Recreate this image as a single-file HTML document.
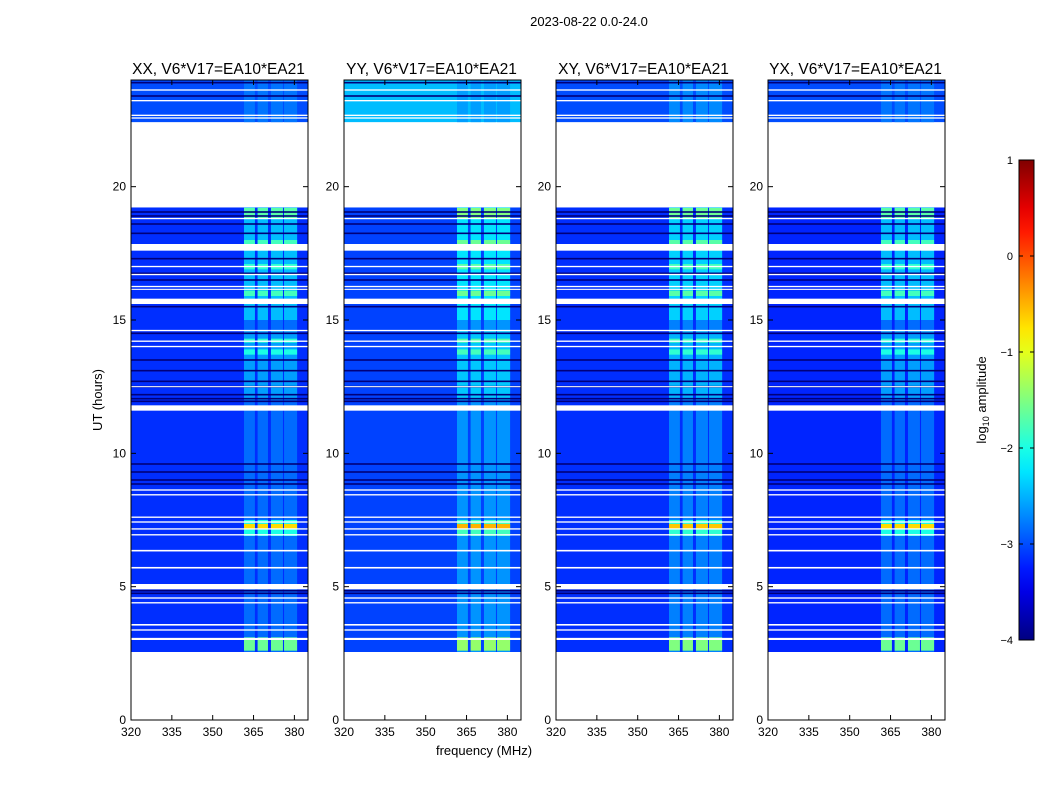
<!DOCTYPE html>
<html><head><meta charset="utf-8">
<style>
body{margin:0;background:#fff;font-family:"Liberation Sans",sans-serif;}
#wrap{position:relative;width:1050px;height:800px;overflow:hidden;}
</style></head>
<body>
<div id="wrap">
<svg id="fig" width="1050" height="800" xmlns="http://www.w3.org/2000/svg">
<text x="589" y="26" font-size="13" text-anchor="middle">2023-08-22 0.0-24.0</text>
<text x="484" y="755" font-size="13" text-anchor="middle">frequency (MHz)</text>
<text transform="translate(102,400) rotate(-90)" font-size="13" text-anchor="middle">UT (hours)</text>
<text transform="translate(986,400) rotate(-90)" font-size="13" text-anchor="middle">log<tspan font-size="9" dy="3">10</tspan><tspan dy="-3"> amplitude</tspan></text>
</svg>
</div>
<script>
const panelTitles = ["XX, V6*V17=EA10*EA21","YY, V6*V17=EA10*EA21","XY, V6*V17=EA10*EA21","YX, V6*V17=EA10*EA21"];
const panelBase = [-3.15,-3.05,-3.15,-3.2];
const panelBandOffset = [0,0.2,0.1,0];
const timeSegments = [[2.55,19.22],[22.42,24]];
const upperBlockLevel = [-3.0,-2.45,-3.0,-3.0];
const channelBands = [[361.5,365.5],[366.5,370.3],[371.4,375.8],[376.2,381]];
const bandLevels = [[2.55,19.22,-2.85],[2.6,3.1,-1.6],[6.9,7.5,-2.0],[7.15,7.35,-0.7],[12,14.6,-2.6],[13.7,13.9,-2.0],[14.15,14.3,-1.9],[15,19.22,-2.45],[15.9,16.1,-1.8],[16.9,17.1,-1.9],[17.6,18.0,-1.8],[18.8,19.2,-1.7],[22.42,24,-2.8]];
const darkLines = [4.75,4.85,9.3,9.6,9.0,8.85,11.95,12.05,12.2,12.5,12.7,13.1,13.5,14.5,15.5,16.5,16.75,17.3,18.25,18.6,18.9,19.05,23.9,23.4];
const whiteGaps = [[3.0,3.08],[3.35,3.4],[3.54,3.6],[4.37,4.42],[4.55,4.6],[4.9,5.1],[5.68,5.74],[6.32,6.38],[6.92,6.97],[7.14,7.19],[7.4,7.45],[7.58,7.63],[8.42,8.47],[8.6,8.65],[11.6,11.8],[12.48,12.52],[13.98,14.03],[14.18,14.23],[14.58,14.63],[15.6,15.8],[16.13,16.17],[16.23,16.28],[16.68,16.73],[16.98,17.03],[17.6,17.85],[18.78,18.83],[22.55,22.6],[22.65,22.7],[23.2,23.25],[23.6,23.65]];
const yTicks = [0,5,10,15,20];
const xTicks = [320,335,350,365,380];
const cbTicks = [1,0,-1,-2,-3,-4];
const cbLabels = ["1","0","\u22121","\u22122","\u22123","\u22124"];

const NS="http://www.w3.org/2000/svg";
const svg=document.getElementById('fig');
const panelX=[131,344,556,768], PW=177, PT=80, PB=720;
const fMin=320,fMax=385,tMin=0,tMax=24;
function xs(i,f){return panelX[i]+(f-fMin)/(fMax-fMin)*PW;}
function ys(t){return PB-(t-tMin)/(tMax-tMin)*(PB-PT);}
function jet(v){
  let x=(v+4)/5; x=Math.max(0,Math.min(1,x));
  function c(a){return Math.max(0,Math.min(1,1.5-Math.abs(4*x-a)));}
  const r=c(3),g=c(2),b=c(1);
  return `rgb(${Math.round(r*255)},${Math.round(g*255)},${Math.round(b*255)})`;
}
function el(tag,attrs,parent){const e=document.createElementNS(NS,tag);for(const k in attrs)e.setAttribute(k,attrs[k]);(parent||svg).appendChild(e);return e;}
function rect(g,i,f0,f1,t0,t1,fill){
  return el('rect',{x:xs(i,f0),y:ys(t1),width:xs(i,f1)-xs(i,f0),height:Math.max(1,ys(t0)-ys(t1)),fill:fill},g);
}
for(let i=0;i<4;i++){
  const g=el('g',{});
  
  
  timeSegments.forEach((s,k)=>{
    const lv=k===1?upperBlockLevel[i]:panelBase[i];
    const r=rect(g,i,fMin,fMax,s[0],s[1],jet(lv));
    
    
  });
  bandLevels.forEach(b=>{
    channelBands.forEach(c=>{
      const r=rect(g,i,c[0],c[1],b[0],b[1],jet(b[2]+panelBandOffset[i]));
      
      
    });
  });
  darkLines.forEach(t=>{
    const r=rect(g,i,fMin,fMax,t-0.03,t+0.03,'#00007a');
    
    
  });
  whiteGaps.forEach(w=>{
    const r=rect(g,i,fMin,fMax,w[0],w[1],'#ffffff');
    
    
  });
  const fr=el('rect',{x:panelX[i],y:PT,width:PW,height:PB-PT,fill:'none',stroke:'#000','stroke-width':1});
  
  
  const tt=el('text',{x:panelX[i]+PW/2-1,y:74,'font-size':15.5,'text-anchor':'middle'});
  tt.textContent=panelTitles[i];
  
  
  yTicks.forEach(t=>{
    el('line',{x1:panelX[i],x2:panelX[i]+5,y1:ys(t),y2:ys(t),stroke:'#000'});
    el('line',{x1:panelX[i]+PW-5,x2:panelX[i]+PW,y1:ys(t),y2:ys(t),stroke:'#000'});
    const l=el('text',{x:panelX[i]-5,y:ys(t)+4,'font-size':12,'text-anchor':'end'});
    l.textContent=t;
    
    
  });
  xTicks.forEach(f=>{
    el('line',{x1:xs(i,f),x2:xs(i,f),y1:PB,y2:PB-5,stroke:'#000'});
    el('line',{x1:xs(i,f),x2:xs(i,f),y1:PT,y2:PT+5,stroke:'#000'});
    const l=el('text',{x:xs(i,f),y:PB+16,'font-size':12,'text-anchor':'middle'});
    l.textContent=f;
    
    
  });
}
const defs=el('defs',{});
const lg=el('linearGradient',{id:'jetg',x1:0,y1:1,x2:0,y2:0},defs);
for(let k=0;k<=20;k++){el('stop',{offset:k/20,'stop-color':jet(-4+5*k/20)},lg);}
const CBX=1019,CBW=15,CBT=160,CBB=640;
const cb=el('rect',{x:CBX,y:CBT,width:CBW,height:CBB-CBT,fill:'url(#jetg)',stroke:'#000','stroke-width':1});


cbTicks.forEach((v,k)=>{
  const y=CBB-(v+4)/5*(CBB-CBT);
  el('line',{x1:CBX,x2:CBX+4,y1:y,y2:y,stroke:'#000'});
  el('line',{x1:CBX+CBW-4,x2:CBX+CBW,y1:y,y2:y,stroke:'#000'});
  const l=el('text',{x:CBX-6,y:y+4,'font-size':11,'text-anchor':'end'});
  l.textContent=cbLabels[k];
  
  
});
</script>
</body></html>
